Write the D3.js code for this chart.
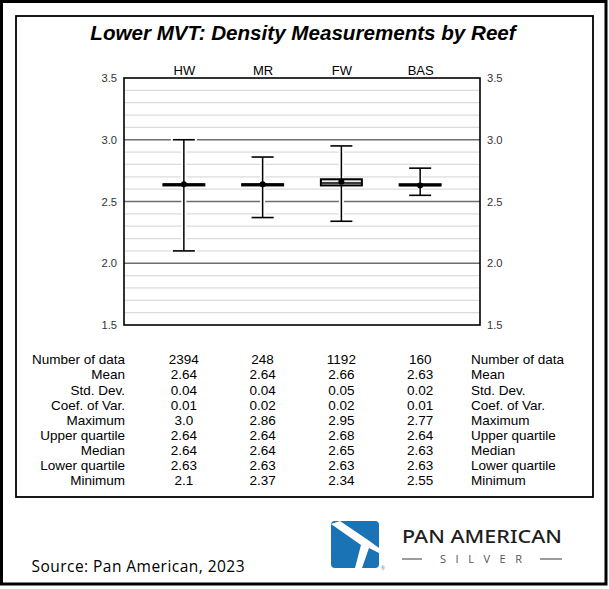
<!DOCTYPE html>
<html><head><meta charset="utf-8">
<script src="https://cdn.jsdelivr.net/npm/d3@7"></script>
<style>html,body{margin:0;padding:0;background:#fff;}svg{display:block;}</style>
</head><body>
<script>
const categories = ["HW", "MR", "FW", "BAS"];
const nData   = [2394, 248, 1192, 160];
const mean    = [2.64, 2.64, 2.66, 2.63];
const stdDev  = [0.04, 0.04, 0.05, 0.02];
const coefVar = [0.01, 0.02, 0.02, 0.01];
const maximum = [3.0, 2.86, 2.95, 2.77];
const upperQ  = [2.64, 2.64, 2.68, 2.64];
const median  = [2.64, 2.64, 2.65, 2.63];
const lowerQ  = [2.63, 2.63, 2.63, 2.63];
const minimum = [2.1, 2.37, 2.34, 2.55];
const yTicks = [1.5, 2.0, 2.5, 3.0, 3.5];
const minorTicks = [1.6,1.7,1.8,1.9,2.1,2.2,2.3,2.4,2.6,2.7,2.8,2.9,3.1,3.2,3.3,3.4];
const rowLabels = ["Number of data","Mean","Std. Dev.","Coef. of Var.","Maximum","Upper quartile","Median","Lower quartile","Minimum"];
const rowValues = [
  nData.map(String),
  mean.map(v=>v.toFixed(2)),
  stdDev.map(v=>v.toFixed(2)),
  coefVar.map(v=>v.toFixed(2)),
  ["3.0","2.86","2.95","2.77"],
  upperQ.map(v=>v.toFixed(2)),
  median.map(v=>v.toFixed(2)),
  lowerQ.map(v=>v.toFixed(2)),
  ["2.1","2.37","2.34","2.55"]
];

(function(){
const W = 609, H = 589;
const svg = d3.select("body").append("svg").attr("width", W).attr("height", H);
svg.append("rect").attr("width", W).attr("height", H).attr("fill", "#fff");

svg.append("rect").attr("x", 1.5).attr("y", 1.5).attr("width", 604.5).attr("height", 582.5)
  .attr("fill", "none").attr("stroke", "#000").attr("stroke-width", 3);
svg.append("rect").attr("x", 16).attr("y", 16).attr("width", 577).attr("height", 481)
  .attr("fill", "#fff").attr("stroke", "#000").attr("stroke-width", 1.8);

const font = "'Liberation Sans', Arial, Helvetica, sans-serif";

svg.append("text").attr("x", 303).attr("y", 40).attr("text-anchor", "middle")
  .attr("font-family", font).attr("font-size", 20.6).attr("font-weight", "bold").attr("font-style", "italic")
  .attr("fill", "#000").text("Lower MVT: Density Measurements by Reef");

const pL = 124, pR = 480, pT = 78, pB = 325;
const y = d3.scaleLinear().domain([1.5, 3.5]).range([pB, pT]);
const x = d3.scalePoint().domain(categories).range([pL, pR]).padding(0.76);

const g = svg.append("g");
g.selectAll("line.minor").data(minorTicks).join("line")
  .attr("x1", pL).attr("x2", pR).attr("y1", d=>y(d)).attr("y2", d=>y(d))
  .attr("stroke", "#dcdcdc").attr("stroke-width", 1.3);
g.selectAll("line.major").data([2.0,2.5,3.0]).join("line")
  .attr("x1", pL).attr("x2", pR).attr("y1", d=>y(d)).attr("y2", d=>y(d))
  .attr("stroke", "#6e6e6e").attr("stroke-width", 1.4);

const yl = d3.axisLeft(y).tickValues(yTicks).tickFormat(d3.format(".1f")).tickSize(0).tickPadding(7);
const yr = d3.axisRight(y).tickValues(yTicks).tickFormat(d3.format(".1f")).tickSize(0).tickPadding(7);
const gl = svg.append("g").attr("transform", `translate(${pL},0)`).call(yl);
const gr = svg.append("g").attr("transform", `translate(${pR},0)`).call(yr);
[gl, gr].forEach(a => {
  a.select(".domain").remove();
  a.selectAll("text").attr("font-family", font).attr("font-size", 11.2).attr("fill", "#333");
});
const xt = d3.axisTop(x).tickSize(0).tickPadding(3);
const gx = svg.append("g").attr("transform", `translate(0,${pT})`).call(xt);
gx.select(".domain").remove();
gx.selectAll("text").attr("font-family", font).attr("font-size", 13).attr("fill", "#000");

const boxes = categories.map((c,i)=>({c, min:minimum[i], max:maximum[i], q1:lowerQ[i], q3:upperQ[i], med:median[i], mean:mean[i]}));
const capW = 11, boxW = 20.5;
const bg = svg.append("g");
bg.selectAll("line.halo").data(boxes).join("line")
  .attr("x1", d=>x(d.c)).attr("x2", d=>x(d.c)).attr("y1", d=>y(d.max)).attr("y2", d=>y(d.min))
  .attr("stroke", "#fff").attr("stroke-width", 5);
bg.selectAll("line.haloCapT").data(boxes).join("line")
  .attr("x1", d=>x(d.c)-capW-2).attr("x2", d=>x(d.c)+capW+2).attr("y1", d=>y(d.max)).attr("y2", d=>y(d.max))
  .attr("stroke", "#fff").attr("stroke-width", 4);
bg.selectAll("line.haloCapB").data(boxes).join("line")
  .attr("x1", d=>x(d.c)-capW-2).attr("x2", d=>x(d.c)+capW+2).attr("y1", d=>y(d.min)).attr("y2", d=>y(d.min))
  .attr("stroke", "#fff").attr("stroke-width", 4);
bg.selectAll("line.wh").data(boxes).join("line")
  .attr("x1", d=>x(d.c)).attr("x2", d=>x(d.c)).attr("y1", d=>y(d.max)).attr("y2", d=>y(d.min))
  .attr("stroke", "#000").attr("stroke-width", 1.5);
bg.selectAll("line.capT").data(boxes).join("line")
  .attr("x1", d=>x(d.c)-capW).attr("x2", d=>x(d.c)+capW).attr("y1", d=>y(d.max)).attr("y2", d=>y(d.max))
  .attr("stroke", "#000").attr("stroke-width", 1.6);
bg.selectAll("line.capB").data(boxes).join("line")
  .attr("x1", d=>x(d.c)-capW).attr("x2", d=>x(d.c)+capW).attr("y1", d=>y(d.min)).attr("y2", d=>y(d.min))
  .attr("stroke", "#000").attr("stroke-width", 1.6);
bg.selectAll("rect.box").data(boxes).join("rect")
  .attr("x", d=>x(d.c)-boxW).attr("width", boxW*2)
  .attr("y", d=>y(d.q3)).attr("height", d=>y(d.q1)-y(d.q3))
  .attr("fill", "#ececec").attr("stroke", "#000").attr("stroke-width", 2);
bg.selectAll("line.med").data(boxes).join("line")
  .attr("x1", d=>x(d.c)-boxW).attr("x2", d=>x(d.c)+boxW).attr("y1", d=>y(d.med)).attr("y2", d=>y(d.med))
  .attr("stroke", "#000").attr("stroke-width", 1.5);
bg.selectAll("circle.mean").data(boxes).join("circle")
  .attr("cx", d=>x(d.c)).attr("cy", d=>y(d.mean)).attr("r", 3).attr("fill", "#000");

svg.append("rect").attr("x", pL).attr("y", pT).attr("width", pR-pL).attr("height", pB-pT)
  .attr("fill", "none").attr("stroke", "#000").attr("stroke-width", 1.6);

const tg = svg.append("g").attr("font-family", font).attr("font-size", 13.5).attr("fill", "#000");
const rowY = i => 359.5 + 15.1*i + 4.8;
rowLabels.forEach((lab, i) => {
  tg.append("text").attr("x", 125).attr("y", rowY(i)).attr("text-anchor", "end").text(lab);
  tg.append("text").attr("x", 471).attr("y", rowY(i)).attr("text-anchor", "start").text(lab);
  categories.forEach((c, j) => {
    tg.append("text").attr("x", x(c)).attr("y", rowY(i)).attr("text-anchor", "middle").text(rowValues[i][j]);
  });
});

svg.append("text").attr("x", 31.5).attr("y", 572).attr("font-family", "'Open Sans', 'Noto Sans', sans-serif")
  .attr("font-size", 15.5).attr("fill", "#000").attr("textLength", 213).text("Source: Pan American, 2023");

const lg = svg.append("g");
lg.append("rect").attr("x", 331).attr("y", 521).attr("width", 48).attr("height", 47).attr("rx", 4).attr("fill", "#1a73b5");
lg.append("path").attr("fill", "#fff")
  .attr("d", "M331,524 L340,521 L368,540 L379,548 L379,553 L369,548 L362,568 L355,568 L361,545 Z");
lg.append("path").attr("fill", "#1a73b5")
  .attr("d", "M331,530 L350,545 L331,560 Z");
lg.append("text").attr("x", 381).attr("y", 570).attr("font-family", font).attr("font-size", 5).attr("fill", "#1a73b5").text("®");
lg.append("text").attr("x", 402).attr("y", 543).attr("font-family", "'Noto Sans', 'Open Sans', sans-serif")
  .attr("font-size", 18.5).attr("font-weight", 500).attr("fill", "#1e1e1e")
  .attr("textLength", 160).attr("lengthAdjust", "spacingAndGlyphs").text("PAN AMERICAN");
lg.append("text").attr("x", 440).attr("y", 563).attr("font-family", "'Open Sans', 'Noto Sans', sans-serif")
  .attr("font-size", 11).attr("fill", "#555").attr("textLength", 82).text("SILVER");
lg.append("line").attr("x1", 402).attr("x2", 422).attr("y1", 559).attr("y2", 559).attr("stroke", "#666").attr("stroke-width", 1.3);
lg.append("line").attr("x1", 540).attr("x2", 562).attr("y1", 559).attr("y2", 559).attr("stroke", "#666").attr("stroke-width", 1.3);
})();
</script>
</body></html>
